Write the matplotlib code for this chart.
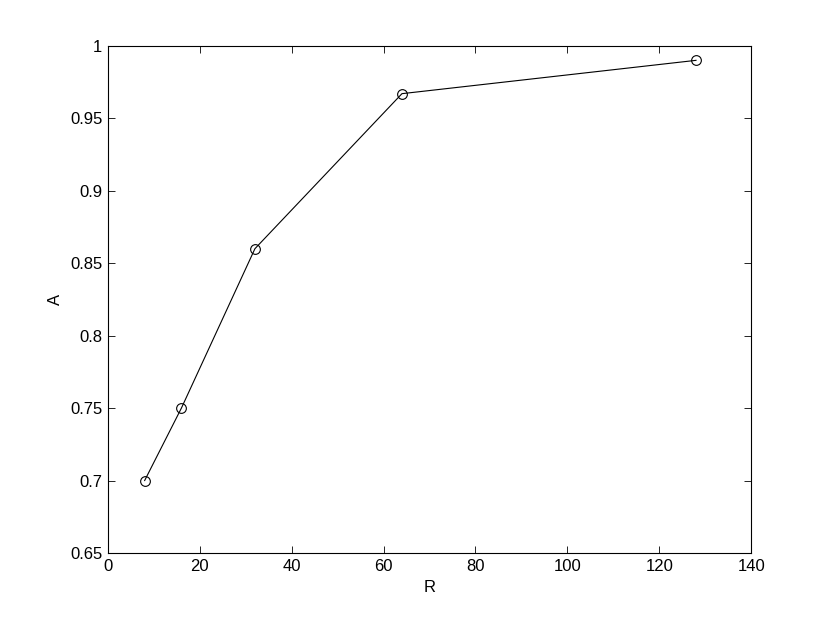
import matplotlib
matplotlib.use('Agg')
import matplotlib.pyplot as plt

plt.rc('font', family='Liberation Sans')

R = [8, 16, 32, 64, 128]
A = [0.70, 0.75, 0.86, 0.967, 0.99]

fig = plt.figure(figsize=(8.3, 6.23), dpi=100)
ax = fig.add_axes([0.130, 0.1124, 0.775, 0.814])

ax.plot(R, A, color='black', linewidth=0.8, marker='o', markersize=7,
        markerfacecolor='none', markeredgecolor='black', markeredgewidth=0.8)

ax.set_xlim(0, 140)
ax.set_ylim(0.65, 1.0)
ax.set_xticks(range(0, 141, 20))
ax.set_yticks([0.65, 0.7, 0.75, 0.8, 0.85, 0.9, 0.95, 1.0])
ax.set_yticklabels(['0.65', '0.7', '0.75', '0.8', '0.85', '0.9', '0.95', '1'])
ax.tick_params(direction='in', top=True, right=True, length=5, width=0.6,
               labelsize=12, pad=4)
for s in ax.spines.values():
    s.set_linewidth(0.8)
ax.set_xlabel('R', fontsize=12, labelpad=5)
ax.set_ylabel('A', fontsize=12, labelpad=5)

fig.savefig('out.png', dpi=100)
